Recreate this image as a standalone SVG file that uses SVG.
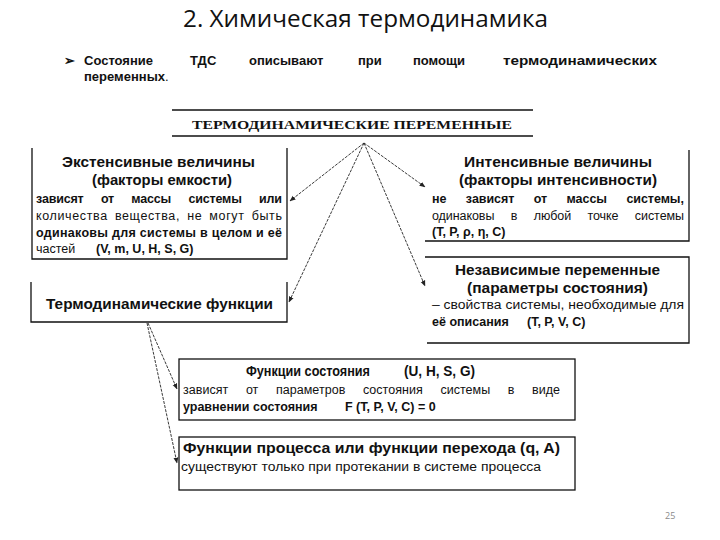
<svg xmlns="http://www.w3.org/2000/svg" width="720" height="540" viewBox="0 0 720 540">
<defs>
<style>
.ttl{font-family:"Open Sans","Noto Sans","Liberation Sans",sans-serif;font-size:24px;fill:#111}
.bul{font-family:"Liberation Sans",Arial,sans-serif;font-size:13px;font-weight:bold;fill:#111}
.hd{font-family:"Liberation Serif","Times New Roman",serif;font-size:13px;font-weight:bold;fill:#111}
.b{font-family:"Liberation Sans",Arial,sans-serif;font-size:14.5px;font-weight:bold;fill:#111}
.n{font-family:"Liberation Sans",Arial,sans-serif;font-size:12.5px;fill:#111}
.nb{font-family:"Liberation Sans",Arial,sans-serif;font-size:12.5px;font-weight:bold;fill:#111}
.box{fill:none;stroke:#111;stroke-width:1.3}
.con{fill:none;stroke:#222;stroke-width:0.9;stroke-dasharray:3 1.2;marker-end:url(#ah)}
.pg{font-family:"Open Sans","Noto Sans",sans-serif;font-size:9px;fill:#8a8a8a}
</style>
<marker id="ah" viewBox="0 0 10 10" refX="9" refY="5" markerWidth="6" markerHeight="6" markerUnits="userSpaceOnUse" orient="auto">
<path d="M0,1 L10,5 L0,9 Z" fill="#222"/>
</marker>
</defs>
<rect width="720" height="540" fill="#fff"/>

<g id="title">
<text class="ttl" x="183" y="27" textLength="365" lengthAdjust="spacingAndGlyphs">2. Химическая термодинамика</text>
</g>

<g id="intro">
<text class="bul" x="64" y="65" font-size="11">➢</text>
<text class="bul" y="65"><tspan x="84">Состояние</tspan><tspan x="190">ТДС</tspan><tspan x="249">описывают</tspan><tspan x="358">при</tspan><tspan x="413">помощи</tspan><tspan x="503" textLength="154" lengthAdjust="spacingAndGlyphs">термодинамических</tspan></text>
<text class="bul" x="84" y="81">переменных<tspan font-weight="normal">.</tspan></text>
</g>

<g id="header">
<line x1="172" y1="110" x2="533" y2="110" stroke="#111" stroke-width="1.3"/>
<line x1="172" y1="136" x2="533" y2="136" stroke="#111" stroke-width="1.3"/>
<text class="hd" x="192" y="129" textLength="320" lengthAdjust="spacingAndGlyphs">ТЕРМОДИНАМИЧЕСКИЕ  ПЕРЕМЕННЫЕ</text>
</g>

<g id="extensive">
<path class="box" d="M32,148 V259 H287 V148"/>
<text class="b" x="62" y="167" textLength="193" lengthAdjust="spacingAndGlyphs">Экстенсивные величины</text>
<text class="b" x="92" y="185" textLength="140" lengthAdjust="spacingAndGlyphs">(факторы емкости)</text>
<text class="nb" x="36" y="203" textLength="246" lengthAdjust="spacing" word-spacing="14">зависят от массы системы или</text>
<text class="n" x="36" y="220" textLength="246" lengthAdjust="spacing" word-spacing="3">количества вещества, не могут быть</text>
<text class="n" x="36" y="237" textLength="246" lengthAdjust="spacing" font-weight="bold" fill="#222">одинаковы для системы в целом и её</text>
<text class="n" y="253"><tspan x="36">частей</tspan><tspan class="nb" x="96">(V, m, U, H, S, G)</tspan></text>
</g>

<g id="intensive">
<path class="box" d="M425,241 H689 V150"/>
<text class="b" x="464" y="167" textLength="188" lengthAdjust="spacingAndGlyphs">Интенсивные величины</text>
<text class="b" x="459" y="185" textLength="198" lengthAdjust="spacingAndGlyphs">(факторы интенсивности)</text>
<text class="nb" x="432" y="203" textLength="252" lengthAdjust="spacing" word-spacing="16">не зависят от массы системы,</text>
<text class="n" x="432" y="220" textLength="252" lengthAdjust="spacing" word-spacing="13">одинаковы в любой точке системы</text>
<text class="nb" x="432" y="236">(T, P, ρ, η, C)</text>
</g>

<g id="independent">
<path class="box" d="M425,257 H689 V343 H427"/>
<text class="b" x="455" y="275" textLength="205" lengthAdjust="spacingAndGlyphs">Независимые переменные</text>
<text class="b" x="467" y="293" textLength="181" lengthAdjust="spacingAndGlyphs">(параметры состояния)</text>
<text class="n" x="432" y="309" textLength="252" lengthAdjust="spacingAndGlyphs">– свойства системы, необходимые для</text>
<text class="nb" y="326"><tspan x="432">её описания</tspan><tspan x="527">(T, P, V, C)</tspan></text>
</g>

<g id="thermo-functions">
<path class="box" d="M31,282 V322 H287 V282"/>
<text class="b" x="46" y="309" textLength="227" lengthAdjust="spacingAndGlyphs">Термодинамические функции</text>
</g>

<g id="state-functions">
<rect class="box" x="179" y="359" width="396" height="61"/>
<text class="b" y="376" font-size="13.5"><tspan x="246" textLength="124" lengthAdjust="spacingAndGlyphs">Функции состояния</tspan><tspan x="404" textLength="71" lengthAdjust="spacingAndGlyphs">(U, H, S, G)</tspan></text>
<text class="n" x="183" y="394" textLength="377" lengthAdjust="spacing" word-spacing="14">зависят от параметров состояния системы в виде</text>
<text class="nb" y="411"><tspan x="183">уравнении состояния</tspan><tspan x="345">F (T, P, V, C) = 0</tspan></text>
</g>

<g id="process-functions">
<rect class="box" x="179" y="437" width="396" height="53"/>
<text class="b" x="183" y="453" textLength="377" lengthAdjust="spacingAndGlyphs">Функции процесса или функции перехода  (q, A)</text>
<text class="n" x="181" y="471" textLength="360" lengthAdjust="spacingAndGlyphs">существуют только при протекании в системе процесса</text>
</g>

<g id="connectors">
<line class="con" x1="364" y1="143" x2="290" y2="201"/>
<line class="con" x1="364" y1="143" x2="425" y2="187"/>
<line class="con" x1="364" y1="143" x2="289" y2="302"/>
<line class="con" x1="364" y1="143" x2="425" y2="286"/>
<line class="con" x1="148" y1="323" x2="177" y2="389"/>
<line class="con" x1="147" y1="323" x2="177" y2="463"/>
</g>

<text class="pg" x="665" y="519">25</text>
</svg>
